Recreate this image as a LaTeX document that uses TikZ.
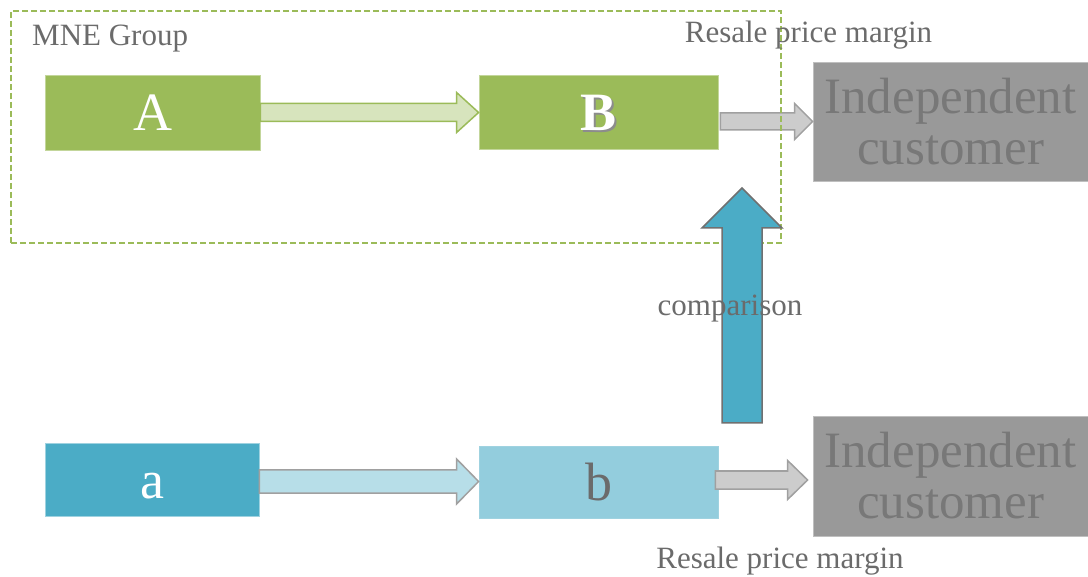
\documentclass[tikz,border=0pt]{standalone}
\usepackage{fontspec}
\setmainfont{Liberation Serif}
\usetikzlibrary{calc}

\definecolor{grn}{HTML}{9BBB59}
\definecolor{grnedge}{HTML}{C3D69B}
\definecolor{grnlt}{HTML}{D7E4BD}
\definecolor{blu}{HTML}{4BACC6}
\definecolor{bluedge}{HTML}{9FD2E0}
\definecolor{blult}{HTML}{93CDDD}
\definecolor{blupale}{HTML}{B7DEE8}
\definecolor{txtgray}{HTML}{6B6B6B}
\definecolor{custfill}{HTML}{999999}
\definecolor{custedge}{HTML}{BFBFBF}
\definecolor{custtext}{HTML}{787878}
\definecolor{arrowgray}{HTML}{CCCCCC}
\definecolor{edgegray}{HTML}{A0A0A0}
\definecolor{cmpedge}{HTML}{707070}

% horizontal block arrow: start, tip, shaft half-height, head half-height, head length, style
\newcommand{\flatarrow}[6]{%
  \filldraw[#6] ($(#1)+(0,#3)$) -- ($(#2)+(-#5,#3)$) -- ($(#2)+(-#5,#4)$) -- (#2)
    -- ($(#2)+(-#5,-#4)$) -- ($(#2)+(-#5,-#3)$) -- ($(#1)+(0,-#3)$) -- cycle;}

\begin{document}
\begin{tikzpicture}[x=1pt,y=-1pt,
  entity/.style={rectangle, inner sep=0pt, text height=37pt, text depth=0pt,
    font=\fontsize{54}{60}\selectfont},
  custbox/.style={rectangle, inner sep=0pt, fill=custfill, draw=custedge, line width=0.8pt,
    minimum width=275pt, text=custtext, align=center,
    font=\fontsize{51}{51}\selectfont},
  lbl/.style={inner sep=0pt, text=txtgray, font=\fontsize{31}{36}\selectfont},
  greenflow/.style={fill=grnlt, draw=grn, line width=1.5pt, line join=miter},
  blueflow/.style={fill=blupale, draw=edgegray, line width=1.5pt, line join=miter},
  grayflow/.style={fill=arrowgray, draw=edgegray, line width=1.5pt, line join=miter},
  cmparrow/.style={fill=blu, draw=cmpedge, line width=1.5pt, line join=miter},
  groupframe/.style={draw=grn, line width=1.5pt, dash pattern=on 6pt off 3pt}]
\useasboundingbox (0,0) rectangle (1088,577);

% companies
\node[entity, fill=grn, draw=grnedge, line width=0.8pt, minimum width=215pt, minimum height=75pt, text=white]
  (A) at (152.5,112.5) {A};
\node[entity, fill=grn, draw=grnedge, line width=0.8pt, minimum width=239pt, minimum height=74pt]
  (B) at (598.5,112) {};
\node[entity, fill=blu, draw=bluedge, line width=0.8pt, minimum width=214pt, minimum height=73pt, text=white]
  (a) at (152,479.5) {a};
\node[entity, fill=blult, draw=bluedge, line width=0.8pt, minimum width=239pt, minimum height=72pt, text=txtgray]
  (b) at (598.5,482) {b};

% bold B with a soft drop shadow
\node[entity, text=black!45, font=\fontsize{54}{60}\selectfont\bfseries] at ($(B)+(2,2)$) {B};
\node[entity, text=white, font=\fontsize{54}{60}\selectfont\bfseries] (Blbl) at (B) {B};

% independent customers
\node[custbox, minimum height=119pt] (IC1) at (950.5,121.5) {Independent\\customer};
\node[custbox, minimum height=120pt] (IC2) at (950.5,476) {Independent\\customer};

% flows between the parties
\coordinate (abTip) at (B.west |- A.east);
\flatarrow{A.east}{abTip}{9}{20}{22}{greenflow}

\coordinate (ab2Start) at (a.east |- 0,481.5);
\coordinate (ab2Tip) at (b.west |- 0,481.5);
\flatarrow{ab2Start}{ab2Tip}{11.5}{22.5}{22}{blueflow}

\coordinate (bcStart) at ($(B.east |- IC1.west)+(2,0)$);
\flatarrow{bcStart}{IC1.west}{8.5}{18}{18}{grayflow}

\coordinate (bc2Start) at ($(b.east |- 0,480)+(-3,0)$);
\coordinate (bc2Tip) at ($(IC2.west |- 0,480)+(-5,0)$);
\flatarrow{bc2Start}{bc2Tip}{9}{19.5}{20}{grayflow}

% MNE group frame
\node[groupframe, inner sep=0pt, minimum width=770pt, minimum height=232pt] (group) at (396,127) {};

% comparison arrow
\coordinate (cmpBase) at (742,423);
\coordinate (cmpTip) at (742,188);
\filldraw[cmparrow] ($(cmpBase)+(-20,0)$) -- ($(cmpTip)+(-20,40)$) -- ($(cmpTip)+(-40,40)$) -- (cmpTip)
  -- ($(cmpTip)+(40,40)$) -- ($(cmpTip)+(20,40)$) -- ($(cmpBase)+(20,0)$) -- cycle;

% labels
\node[lbl, anchor=base west] (mne) at (32,46) {MNE Group};
\node[lbl, anchor=base] (rpm1) at (808.5,43) {Resale price margin};
\node[lbl, anchor=base] (rpm2) at (780,568) {Resale price margin};
\node[lbl, anchor=base] (cmp) at (730,316) {comparison};
\end{tikzpicture}
\end{document}
